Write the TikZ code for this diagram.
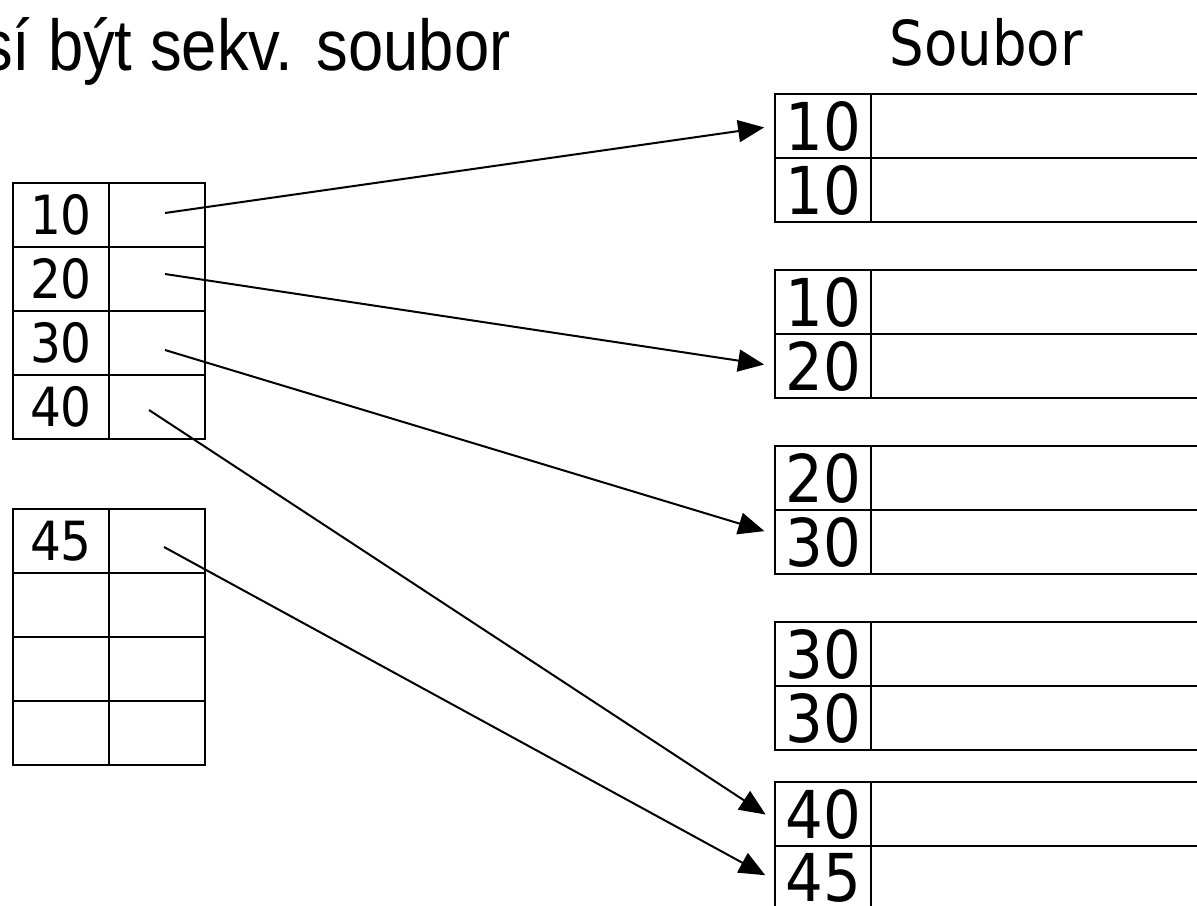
\documentclass[tikz,border=0pt]{standalone}
\usepackage{graphicx}
\usepackage{fontspec}
\setmainfont{Liberation Sans}
\newfontfamily\cellfont{DejaVu Sans}
\usetikzlibrary{arrows.meta}

\tikzset{
  cell/.style={draw,line width=1pt,inner sep=0pt,minimum width=48pt,minimum height=32pt},
  ptr/.style={-{Triangle[length=13pt,width=11pt]},line width=1pt,shorten >=5pt},
}
\newcommand{\smallnum}[1]{{\cellfont\fontsize{27}{27}\selectfont\scalebox{0.9}[1]{#1}}}
\newcommand{\bignum}[1]{{\cellfont\fontsize{33}{33}\selectfont\scalebox{0.9}[1]{#1}}}

\begin{document}
\begin{tikzpicture}[x=0.5pt,y=-0.5pt]
    \useasboundingbox (0,0) rectangle (1197,905);

    % Nadpisy
    \node[anchor=base east,inner sep=0pt] (nadpis) at (511,70) {\fontsize{36}{36}\selectfont\scalebox{0.88}[1]{sí být sekv. soubor}};
    \node[anchor=base west,inner sep=0pt] (soubor) at (889,65) {\cellfont\fontsize{31}{31}\selectfont\scalebox{0.88}[1]{Soubor}};

    % Index - prvni stranka
    \foreach \k/\y in {10/215,20/279,30/343,40/407} {
        \node[cell] (i\k) at (61,\y) {\smallnum{\k}};
        \node[cell] (p\k) at (157,\y) {};
    }

    % Index - druha stranka
    \node[cell] (i45) at (61,541) {\smallnum{45}};
    \node[cell] (p45) at (157,541) {};
    \foreach \y in {605,669,733} {
        \node[cell] (e\y) at (61,\y) {};
        \node[cell] (f\y) at (157,\y) {};
    }

    % Soubor - bloky po dvou zaznamech
    \foreach \b/\t/\ka/\kb in {1/94/10/10,2/270/10/20,3/446/20/30,4/622/30/30,5/782/40/45} {
        \node[cell] (b\b-1) at (823,\t+32) {\bignum{\ka}};
        \node[cell] (b\b-2) at (823,\t+96) {\bignum{\kb}};
        \node[cell,minimum width=214.5pt] (v\b-1) at (1085.5,\t+32) {};
        \node[cell,minimum width=214.5pt] (v\b-2) at (1085.5,\t+96) {};
    }

    % Ukazatele
    \draw[ptr] ([shift={(8,-2)}]p10.center) -- (b1-1.west);
    \draw[ptr] ([shift={(8,-5)}]p20.center) -- (b2-2.west);
    \draw[ptr] ([shift={(8,7)}]p30.center) -- ([shift={(0,-8)}]b3-2.west);
    \draw[ptr] ([shift={(-8,3)}]p40.center) -- ([shift={(0,6)}]b5-1.west);
    \draw[ptr] ([shift={(7,6)}]p45.center) -- ([shift={(0,2)}]b5-2.west);
\end{tikzpicture}
\end{document}
